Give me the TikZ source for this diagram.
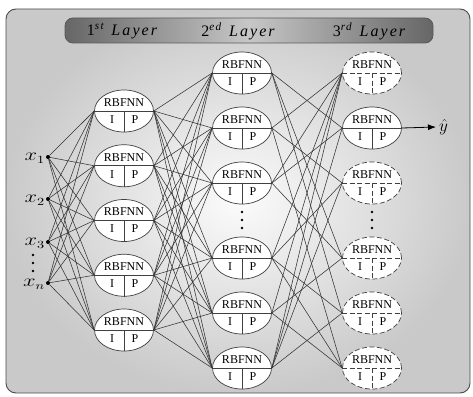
\documentclass[tikz,border=0pt]{standalone}
\usepackage{fontspec}
\setmainfont{Liberation Serif}
\usetikzlibrary{shapes.geometric,arrows.meta}
\tikzset{
  rbfshape/.style={ellipse, draw=black!75, fill=white, minimum width=59pt, minimum height=42pt, inner sep=0pt, line width=0.7pt},
  rbfline/.style={draw=black!75, line width=0.7pt},
  rbfdashed/.style={dash pattern=on 5pt off 2.5pt},
  rbftxt/.style={inner sep=0pt, font=\fontsize{12}{14}\selectfont},
  conn/.style={draw=black!80, line width=0.55pt},
  indot/.style={circle, fill=black, inner sep=0pt, minimum size=4pt},
  vdot/.style={circle, fill=black, inner sep=0pt, minimum size=2.8pt},
  xlab/.style={font=\fontsize{16}{18}\selectfont, inner sep=0pt},
  hdr/.style={font=\fontsize{16}{18}\selectfont\itshape\addfontfeature{LetterSpace=13}, inner sep=0pt},
}
\newcommand\rbfn[4]{%
  \node[rbfshape,#4] (#1) at (#2,#3) {};
  \draw[rbfline,#4] (#1.west) -- (#1.east) (#1.center) -- (#1.south);
  \node[rbftxt] (#1-t) at ([yshift=8.5pt]#1.center) {RBFNN};
  \node[rbftxt] (#1-i) at ([xshift=-12pt,yshift=-8.5pt]#1.center) {I};
  \node[rbftxt] (#1-p) at ([xshift=11pt,yshift=-8.5pt]#1.center) {P};
}
\begin{document}
\begin{tikzpicture}[x=1pt,y=-1pt]
\useasboundingbox (0,0) rectangle (473,396);
% background panel
\shade[rounded corners=10pt, inner color=gray!3, outer color=gray!42]
  (6,9) rectangle (470,393);
\draw[black!70, line width=0.9pt, rounded corners=10pt] (6,9) rectangle (470,393);
% header bar
\shade[rounded corners=8pt, left color=black!60, right color=black!60, middle color=black!22]
  (65,18) rectangle (433,43);
\draw[black!65, line width=0.8pt, rounded corners=8pt] (65,18) rectangle (433,43);
\node[hdr] (h1) at (122,31) {{\upshape 1}\textsuperscript{st}\hspace{0.45em}Layer};
\node[hdr] (h2) at (238,31) {{\upshape 2}\textsuperscript{ed}\hspace{0.45em}Layer};
\node[hdr] (h3) at (369,31) {{\upshape 3}\textsuperscript{rd}\hspace{0.45em}Layer};
% inputs
\node[indot] (in1) at (48,157) {};
\node[indot] (in2) at (48,199) {};
\node[indot] (in3) at (48,242) {};
\node[indot] (in4) at (48,283) {};
\node[xlab, anchor=east] (x1) at (45,158) {\scalebox{1.3}[1]{$x_1$}};
\node[xlab, anchor=east] (x2) at (45,200) {\scalebox{1.3}[1]{$x_2$}};
\node[xlab, anchor=east] (x3) at (45,243) {\scalebox{1.3}[1]{$x_3$}};
\node[xlab, anchor=east] (xn) at (45,284) {\scalebox{1.3}[1]{$x_n$}};
\node[vdot] (id1) at (33,255) {};
\node[vdot] (id2) at (33,263) {};
\node[vdot] (id3) at (33,271) {};
% layer 1
\rbfn{a1}{124}{111}{solid}
\rbfn{a2}{124}{165.75}{solid}
\rbfn{a3}{124}{220.5}{solid}
\rbfn{a4}{124}{275.25}{solid}
\rbfn{a5}{124}{330}{solid}
% layer 2
\rbfn{b1}{242}{73}{solid}
\rbfn{b2}{242}{128}{solid}
\rbfn{b3}{242}{183}{solid}
\rbfn{b4}{242}{258}{solid}
\rbfn{b5}{242}{313}{solid}
\rbfn{b6}{242}{368}{solid}
\node[vdot] (bd1) at (242,212) {};
\node[vdot] (bd2) at (242,220) {};
\node[vdot] (bd3) at (242,228) {};
% layer 3
\rbfn{c1}{372}{73}{rbfdashed}
\rbfn{c2}{372}{128}{solid}
\rbfn{c3}{372}{183}{rbfdashed}
\rbfn{c4}{372}{258}{rbfdashed}
\rbfn{c5}{372}{313}{rbfdashed}
\rbfn{c6}{372}{368}{rbfdashed}
\node[vdot] (cd1) at (372,212) {};
\node[vdot] (cd2) at (372,220) {};
\node[vdot] (cd3) at (372,228) {};
% connectors
\foreach \i in {1,...,4}
  \foreach \j in {1,...,5}
    \draw[conn] (in\i) -- (a\j.west);
\foreach \i in {1,...,5}
  \foreach \j in {1,...,6}
    \draw[conn] (a\i.east) -- (b\j.west);
\foreach \i/\j in {1/2,1/4,1/5,2/1,2/3,2/6,3/1,3/2,3/4,4/1,4/3,4/5,4/6,5/1,5/4,5/6,6/1,6/2,6/3,6/5}
    \draw[conn] (b\i.east) -- (c\j.west);
% output
\node[xlab, anchor=west, inner sep=3pt] (yhat) at (436,127) {$\hat{y}$};
\draw[black, line width=0.8pt, -{Latex[length=8pt,width=6pt]}] (c2.east) -- (yhat.west);
\end{tikzpicture}
\end{document}
